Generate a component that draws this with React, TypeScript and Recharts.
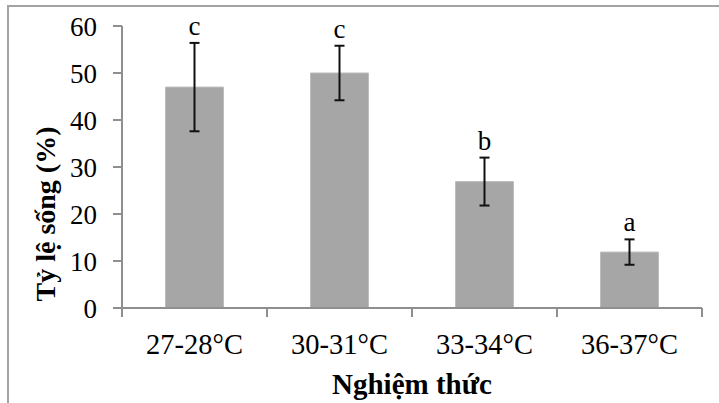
import React from "react";
import {
  ComposedChart,
  Bar,
  Line,
  XAxis,
  YAxis,
  ErrorBar,
  LabelList,
  Label,
} from "recharts";

// survival rate by temperature treatment
const categories = ["27-28°C", "30-31°C", "33-34°C", "36-37°C"];
const survival = [47.0, 50.0, 26.9, 11.9];
const errors = [9.4, 5.8, 5.1, 2.7];
const letters = ["c", "c", "b", "a"];
const yTicks = [0, 10, 20, 30, 40, 50, 60];

const W = 719;
const H = 403;
const M = { top: 26, right: 17, left: 0, bottom: 0 };
const Y_AXIS_W = 122;
const X_AXIS_H = 95;
const PLOT_W = W - M.left - M.right - Y_AXIS_W;
const BAND = PLOT_W / categories.length;

const FONT = "'Liberation Serif', 'Times New Roman', serif";
const AXIS = "#8f8f8f";

const chartData = categories.map((name, i) => ({
  name,
  value: survival[i],
  err: errors[i],
  top: survival[i] + errors[i],
  letter: letters[i],
}));

const CategoryTick = (props: any) => {
  const { x, y, payload, index } = props;
  const left = x - BAND / 2;
  const right = x + BAND / 2;
  return (
    <g>
      <line x1={left} x2={left} y1={y} y2={y + 9} stroke={AXIS} strokeWidth={2} />
      {index === categories.length - 1 && (
        <line x1={right} x2={right} y1={y} y2={y + 9} stroke={AXIS} strokeWidth={2} />
      )}
      <text x={x} y={y + 46} textAnchor="middle" fill="#000" fontSize={28.5} fontFamily={FONT}>
        {payload.value}
      </text>
    </g>
  );
};

export default function App() {
  return (
    <div
      style={{
        position: "fixed",
        left: 0,
        top: 0,
        width: W,
        height: H,
        background: "#fff",
        overflow: "hidden",
      }}
    >
      <div
        style={{
          position: "absolute",
          left: 7,
          top: 5,
          right: 0,
          bottom: 0,
          borderTop: "2px solid #a3a3a3",
          borderLeft: "2px solid #a3a3a3",
        }}
      />
      <div style={{ position: "absolute", left: 0, top: 0 }}>
        <ComposedChart
          width={W}
          height={H}
          data={chartData}
          margin={M}
          barCategoryGap="30%"
          style={{ fontFamily: FONT }}
        >
          <XAxis
            dataKey="name"
            height={X_AXIS_H}
            interval={0}
            axisLine={{ stroke: AXIS, strokeWidth: 2 }}
            tickLine={false}
            tickSize={0}
            tickMargin={0}
            tick={<CategoryTick />}
          >
            <Label
              value="Nghiệm thức"
              position="insideBottom"
              offset={9}
              fill="#000"
              fontSize={29}
              fontWeight="bold"
              fontFamily={FONT}
            />
          </XAxis>
          <YAxis
            width={Y_AXIS_W}
            domain={[0, 60]}
            ticks={yTicks}
            interval={0}
            tickSize={9}
            tickMargin={16}
            axisLine={{ stroke: AXIS, strokeWidth: 2 }}
            tickLine={{ stroke: AXIS, strokeWidth: 2 }}
            tick={{ fill: "#000", fontSize: 27, fontFamily: FONT }}
          >
            <Label
              value="Tỷ lệ sống (%)"
              angle={-90}
              position="center"
              dx={-16}
              dy={47}
              fill="#000"
              fontSize={28}
              fontWeight="bold"
              fontFamily={FONT}
            />
          </YAxis>
          <Bar
            dataKey="value"
            fill="#a6a6a6"
            stroke="#bdbdbd"
            strokeWidth={1}
            isAnimationActive={false}
          >
            <ErrorBar dataKey="err" width={5} stroke="#111" strokeWidth={2} />
          </Bar>
          <Line
            dataKey="top"
            stroke="none"
            dot={false}
            activeDot={false}
            isAnimationActive={false}
          >
            <LabelList
              dataKey="letter"
              position="top"
              offset={8}
              fill="#000"
              fontSize={27}
              fontFamily={FONT}
            />
          </Line>
        </ComposedChart>
      </div>
    </div>
  );
}
